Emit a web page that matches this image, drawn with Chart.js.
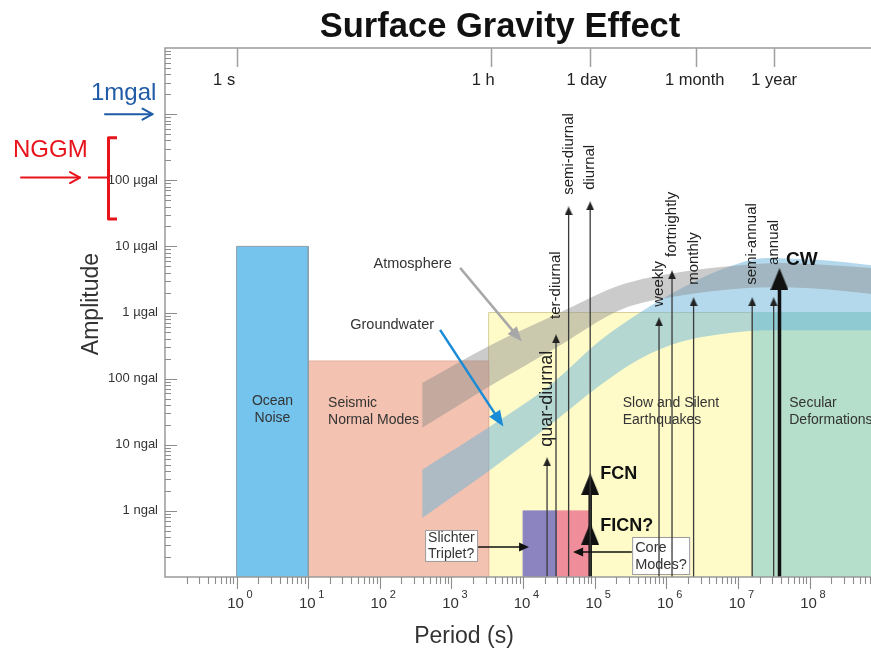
<!DOCTYPE html>
<html>
<head>
<meta charset="utf-8">
<title>Surface Gravity Effect</title>
<script src="https://cdn.jsdelivr.net/npm/chart.js@4.4.1/dist/chart.umd.min.js"></script>
<style>
html,body{margin:0;padding:0;background:#ffffff;}
#wrap{width:871px;height:650px;position:relative;}
canvas{display:block;}
</style>
</head>
<body>
<div id="wrap"><canvas id="chart" width="871" height="650"></canvas></div>
<script>
// ===== DATA (period in seconds, amplitude in ngal) =====
const periodRange = [0.1, 7.2e8];
const amplitudeRange = [0.1, 1e7];

// Source regions (rectangles)
const regionNames = ['Ocean Noise', 'Seismic Normal Modes', 'Slow and Silent Earthquakes', 'Secular Deformations', 'Slichter Triplet', 'Core Modes'];
const regionStart = [1, 10, 3300, 1.58e7, 1e4, 28800];
const regionEnd   = [10, 3300, 1.58e7, 1e9, 28800, 86400];
const regionTop   = [1e4, 185, 1000, 1000, 1, 1];

// Atmosphere band
const atmPeriods = [390, 3500, 3.3e4, 2.3e5, 1.6e6, 1.1e7, 3.9e7, 2e8, 7.2e8];
const atmUpper   = [86, 320, 1000, 2600, 4100, 5200, 5600, 5200, 4700];
const atmLower   = [18, 78, 320, 1100, 1800, 2300, 2400, 2200, 1900];

// Groundwater band
const gwPeriods = [390, 3500, 2.4e4, 1.2e5, 4.3e5, 1.6e6, 5.6e6, 2.6e7, 1.4e8, 7.2e8];
const gwUpper   = [4.2, 19, 80, 380, 1000, 2300, 4400, 6700, 6200, 5200];
const gwLower   = [0.78, 4.2, 20, 80, 200, 360, 470, 540, 540, 540];

// Tidal lines
const tideNames   = ['quar-diurnal', 'ter-diurnal', 'semi-diurnal', 'diurnal', 'weekly', 'fortnightly', 'monthly', 'semi-annual', 'annual'];
const tidePeriods = [21600, 28800, 43200, 86400, 7.9e5, 1.2e6, 2.4e6, 1.58e7, 3.15e7];
const tideAmps    = [5.5, 400, 34400, 41000, 720, 3700, 1450, 1450, 1450];

// Earth rotation modes (thick arrows)
const fcnPeriod = 86400;
const fcnAmps   = [0.45, 2.55];   // FICN?, FCN
const cwPeriod  = 3.8e7;
const cwAmp     = 3200;

// Axis ticks
const ampTicks       = [1, 10, 100, 1e3, 1e4, 1e5];
const ampTickLabels  = ['1 ngal', '10 ngal', '100 ngal', '1 \u00b5gal', '10 \u00b5gal', '100 \u00b5gal'];
const periodTicks    = [1, 10, 100, 1e3, 1e4, 1e5, 1e6, 1e7, 1e8];
const periodTickExp  = ['0', '1', '2', '3', '4', '5', '6', '7', '8'];
const timeMarks      = [1, 3600, 86400, 2.61e6, 3.15e7];
const timeMarkLabels = ['1 s', '1 h', '1 day', '1 month', '1 year'];

// Texts
const regionLabelLines = [['Ocean', 'Noise'], ['Seismic', 'Normal Modes'], ['Slow and Silent', 'Earthquakes'], ['Secular', 'Deformations']];
const calloutText = [['Slichter', 'Triplet?'], ['Core', 'Modes?']];

// ===== LAYOUT (annotation anchors in data units, styles) =====
const layout = {
  regionLabelPos: [[3.17, 34], [18.9, 31.8], [2.46e5, 32], [5.2e7, 32]],
  regionLabelAlign: ['center', 'left', 'left', 'left'],
  tideLabelBase: [9.3, 800, 60100, 71600, 1220, 6930, 2620, 2620, 5250],
  tideLabelSize: [18, 15, 15, 15, 15, 15, 15, 15, 15],
  fcnLabelPos: [[1.19e5, 3.6], [1.19e5, 0.59]],
  cwLabelPos: [4.7e7, 6250],
  calloutPeriod: [[428, 2350], [3.33e5, 2.15e6]],
  calloutAmp: [[0.169, 0.514], [0.107, 0.403]],
  calloutArrowFrom: [[2350, 0.284], [3.3e5, 0.239]],
  calloutArrowTo: [[12100, 0.284], [49900, 0.239]],
  atmLabel: [1007, 5320], atmArrow: [[1320, 4730], [9600, 363]],
  gwLabel: [571, 647], gwArrow: [[693, 546], [5300, 18.8]],
  mgalLevel: 1e6, nggmLevel: 1.1e5, nggmSpan: [2.6e4, 4.4e5],
  topLabelShift: [-12.5, -8, -3.5, -1.5, 0.5]
};

const regionFill = ['#74C4EE', '#F3C2B0', '#FEFBC9', '#B5DFCA', '#8B84C0', '#EF8E9A'];
const regionEdge = ['#8b9fad', '#e6b3a1', '#d8cf9c', '#B5DFCA', '#8B84C0', '#EF8E9A'];
const FONT = '"Liberation Sans", Arial, Helvetica, sans-serif';

function headCanvas(w, h, color) {
  const c = document.createElement('canvas');
  c.width = w; c.height = h;
  const g = c.getContext('2d');
  g.fillStyle = color;
  g.beginPath(); g.moveTo(w / 2, 0); g.lineTo(w, h); g.lineTo(0, h); g.closePath(); g.fill();
  return c;
}
const thinHead = headCanvas(8, 9, '#222');
const thickHead = headCanvas(18, 22, '#111');

// ===== DATASETS =====
const datasets = [];
regionNames.forEach((name, i) => {
  datasets.push({
    label: name,
    data: [
      {x: regionStart[i], y: amplitudeRange[0]},
      {x: regionStart[i], y: regionTop[i]},
      {x: regionEnd[i], y: regionTop[i]},
      {x: regionEnd[i], y: amplitudeRange[0]}
    ],
    backgroundColor: regionFill[i],
    borderColor: regionEdge[i],
    borderWidth: 1,
    fill: 'start',
    pointRadius: 0,
    tension: 0,
    order: (i === 2 || i === 3) ? 21 : 20
  });
});
function band(label, periods, upper, lower, color, order) {
  datasets.push({
    label: label + ' upper',
    data: periods.map((p, i) => ({x: p, y: upper[i]})),
    fill: '+1', backgroundColor: color, borderColor: 'rgba(0,0,0,0)', borderWidth: 0,
    pointRadius: 0, tension: 0.4, cubicInterpolationMode: 'monotone', order: order
  });
  datasets.push({
    label: label + ' lower',
    data: periods.map((p, i) => ({x: p, y: lower[i]})),
    fill: false, backgroundColor: color, borderColor: 'rgba(0,0,0,0)', borderWidth: 0,
    pointRadius: 0, tension: 0.4, cubicInterpolationMode: 'monotone', order: order
  });
}
band('Groundwater', gwPeriods, gwUpper, gwLower, 'rgba(105,180,218,0.5)', 6);
band('Atmosphere', atmPeriods, atmUpper, atmLower, 'rgba(140,140,140,0.45)', 5);

tideNames.forEach((name, i) => {
  datasets.push({
    label: name,
    data: [{x: tidePeriods[i], y: amplitudeRange[0]}, {x: tidePeriods[i], y: tideAmps[i]}],
    borderColor: '#3a3a3a', borderWidth: 1.3, fill: false,
    pointStyle: thinHead, pointRadius: [0, 4.5], tension: 0, order: 1
  });
});
datasets.push({
  label: 'FCN',
  data: [{x: fcnPeriod, y: amplitudeRange[0]}, {x: fcnPeriod, y: fcnAmps[0]}, {x: fcnPeriod, y: fcnAmps[1]}],
  borderColor: '#111', borderWidth: 3.5, fill: false,
  pointStyle: thickHead, pointRadius: [0, 11, 11], tension: 0, order: 1
});
datasets.push({
  label: 'CW',
  data: [{x: cwPeriod, y: amplitudeRange[0]}, {x: cwPeriod, y: cwAmp}],
  borderColor: '#111', borderWidth: 3.5, fill: false,
  pointStyle: thickHead, pointRadius: [0, 11], tension: 0, order: 1
});

// ===== DRAW HELPERS =====
function txt(ctx, s, x, y, size, o) {
  o = o || {};
  ctx.save();
  ctx.font = (o.bold ? 'bold ' : '') + size + 'px ' + FONT;
  ctx.fillStyle = o.color || '#333';
  ctx.textAlign = o.align || 'left';
  ctx.textBaseline = o.baseline || 'middle';
  if (o.rotate) { ctx.translate(x, y); ctx.rotate(o.rotate); ctx.fillText(s, 0, 0); }
  else ctx.fillText(s, x, y);
  ctx.restore();
}
function solidArrow(ctx, x1, y1, x2, y2, lw, color, len, wid) {
  const a = Math.atan2(y2 - y1, x2 - x1);
  ctx.save();
  ctx.strokeStyle = color; ctx.fillStyle = color; ctx.lineWidth = lw;
  ctx.beginPath(); ctx.moveTo(x1, y1); ctx.lineTo(x2 - Math.cos(a) * len * 0.8, y2 - Math.sin(a) * len * 0.8); ctx.stroke();
  ctx.translate(x2, y2); ctx.rotate(a);
  ctx.beginPath(); ctx.moveTo(0, 0); ctx.lineTo(-len, wid / 2); ctx.lineTo(-len, -wid / 2); ctx.closePath(); ctx.fill();
  ctx.restore();
}
function openArrow(ctx, x1, x2, y, lw, color) {
  ctx.save();
  ctx.strokeStyle = color; ctx.lineWidth = lw; ctx.lineCap = 'round'; ctx.lineJoin = 'round';
  ctx.beginPath(); ctx.moveTo(x1, y); ctx.lineTo(x2, y); ctx.stroke();
  ctx.beginPath(); ctx.moveTo(x2 - 10, y - 5.5); ctx.lineTo(x2, y); ctx.lineTo(x2 - 10, y + 5.5); ctx.stroke();
  ctx.restore();
}

let overlayDone = false;
const overlayPlugin = {
  id: 'overlays',
  beforeDatasetsDraw() { overlayDone = false; },
  beforeDatasetDraw(chart, args) {
    if (overlayDone || args.meta.order !== 1) return;
    overlayDone = true;
    const ctx = chart.ctx, X = v => chart.scales.x.getPixelForValue(v), Y = v => chart.scales.y.getPixelForValue(v);
    // region labels
    regionLabelLines.forEach((lines, i) => {
      const x = X(layout.regionLabelPos[i][0]), yc = Y(layout.regionLabelPos[i][1]);
      lines.forEach((s, j) => txt(ctx, s, x, yc + (j - (lines.length - 1) / 2) * 17, 14, {align: layout.regionLabelAlign[i], color: '#333'}));
    });
    // callout boxes
    calloutText.forEach((lines, i) => {
      const x1 = X(layout.calloutPeriod[i][0]), x2 = X(layout.calloutPeriod[i][1]);
      const y1 = Y(layout.calloutAmp[i][1]), y2 = Y(layout.calloutAmp[i][0]);
      ctx.save();
      ctx.fillStyle = '#ffffff'; ctx.strokeStyle = '#9a9a9a'; ctx.lineWidth = 1;
      ctx.fillRect(x1, y1, x2 - x1, y2 - y1); ctx.strokeRect(x1 + 0.5, y1 + 0.5, x2 - x1 - 1, y2 - y1 - 1);
      ctx.restore();
      const yc = (y1 + y2) / 2, gap = i === 0 ? 16 : 17;
      lines.forEach((s, j) => txt(ctx, s, x1 + 3, yc + (j - 0.5) * gap, i === 0 ? 14 : 14.5, {color: '#333'}));
    });
  },
  afterDatasetsDraw(chart) {
    const ctx = chart.ctx, X = v => chart.scales.x.getPixelForValue(v), Y = v => chart.scales.y.getPixelForValue(v);
    const a = chart.chartArea;
    // callout arrows
    layout.calloutArrowFrom.forEach((f, i) => {
      const t = layout.calloutArrowTo[i];
      solidArrow(ctx, X(f[0]), Y(f[1]), X(t[0]), Y(t[1]), 1.6, '#111', 10, 9);
    });
    // tidal labels
    tideNames.forEach((s, i) => {
      txt(ctx, s, X(tidePeriods[i]), Y(layout.tideLabelBase[i]), layout.tideLabelSize[i], {rotate: -Math.PI / 2, color: '#222'});
    });
    txt(ctx, 'FCN', X(layout.fcnLabelPos[0][0]), Y(layout.fcnLabelPos[0][1]), 18, {bold: true, color: '#111'});
    txt(ctx, 'FICN?', X(layout.fcnLabelPos[1][0]), Y(layout.fcnLabelPos[1][1]), 18, {bold: true, color: '#111'});
    txt(ctx, 'CW', X(layout.cwLabelPos[0]), Y(layout.cwLabelPos[1]), 19, {bold: true, color: '#111'});
    // atmosphere / groundwater annotations
    txt(ctx, 'Atmosphere', X(layout.atmLabel[0]), Y(layout.atmLabel[1]), 14.5, {align: 'right', color: '#333'});
    txt(ctx, 'Groundwater', X(layout.gwLabel[0]), Y(layout.gwLabel[1]), 14.5, {align: 'right', color: '#333'});
    solidArrow(ctx, X(layout.atmArrow[0][0]), Y(layout.atmArrow[0][1]), X(layout.atmArrow[1][0]), Y(layout.atmArrow[1][1]), 2.5, '#a8a8a8', 15, 12);
    solidArrow(ctx, X(layout.gwArrow[0][0]), Y(layout.gwArrow[0][1]), X(layout.gwArrow[1][0]), Y(layout.gwArrow[1][1]), 2.5, '#1a8bd6', 16, 13);

    // ----- axes -----
    ctx.save();
    ctx.strokeStyle = '#9a9a9a'; ctx.lineWidth = 1.5;
    ctx.beginPath();
    ctx.moveTo(a.right, a.top); ctx.lineTo(a.left, a.top); ctx.lineTo(a.left, a.bottom); ctx.lineTo(a.right, a.bottom);
    ctx.stroke();
    ctx.lineWidth = 1.1; ctx.strokeStyle = '#8c8c8c';
    ctx.beginPath();
    for (let d = -1; d <= 6; d++) {
      for (let k = 1; k <= 9; k++) {
        const v = k * Math.pow(10, d);
        if (v <= amplitudeRange[0] || v >= amplitudeRange[1]) continue;
        const y = Math.round(Y(v)) + 0.5;
        const len = k === 1 ? 12 : 6;
        ctx.moveTo(a.left, y); ctx.lineTo(a.left + len, y);
      }
    }
    for (let d = -1; d <= 8; d++) {
      for (let k = 1; k <= 9; k++) {
        const v = k * Math.pow(10, d);
        if (v <= periodRange[0] || v >= periodRange[1]) continue;
        const x = Math.round(X(v)) + 0.5;
        const len = k === 1 ? 12 : 7;
        ctx.moveTo(x, a.bottom); ctx.lineTo(x, a.bottom + len);
      }
    }
    ctx.stroke();
    ctx.lineWidth = 1.5; ctx.strokeStyle = '#a0a0a0';
    ctx.beginPath();
    timeMarks.forEach(v => { const x = Math.round(X(v)) + 0.5; ctx.moveTo(x, a.top); ctx.lineTo(x, a.top + 19); });
    ctx.stroke();
    ctx.restore();
    timeMarks.forEach((v, i) => txt(ctx, timeMarkLabels[i], X(v) + layout.topLabelShift[i], a.top + 37, 16.5, {align: 'center', baseline: 'alphabetic', color: '#222'}));
    ampTicks.forEach((v, i) => txt(ctx, ampTickLabels[i], 158, Y(v), 13, {align: 'right', color: '#333'}));
    periodTicks.forEach((v, i) => {
      const x = X(v) - 1;
      txt(ctx, '10', x, a.bottom + 27, 15, {align: 'center', color: '#333'});
      txt(ctx, periodTickExp[i], x + 11, a.bottom + 18, 11, {align: 'left', color: '#333'});
    });
  },
  afterDraw(chart) {
    const ctx = chart.ctx, Y = v => chart.scales.y.getPixelForValue(v);
    txt(ctx, 'Surface Gravity Effect', 500, 37, 34.5, {bold: true, align: 'center', baseline: 'alphabetic', color: '#111'});
    txt(ctx, 'Amplitude', 92, 304, 23, {align: 'center', rotate: -Math.PI / 2, color: '#333'});
    txt(ctx, 'Period (s)', 464, 637, 23, {align: 'center', color: '#333'});
    const yM = Y(layout.mgalLevel);
    txt(ctx, '1mgal', 91, 100, 24, {baseline: 'alphabetic', color: '#1f5ba6'});
    openArrow(ctx, 105, 152.5, yM, 2, '#1f5ba6');
    const red = '#e8141c';
    txt(ctx, 'NGGM', 13, 157, 24, {baseline: 'alphabetic', color: red});
    const yN = Y(layout.nggmLevel);
    openArrow(ctx, 21, 80, yN, 2, red);
    const yTop = Y(layout.nggmSpan[1]), yBot = Y(layout.nggmSpan[0]);
    ctx.save();
    ctx.strokeStyle = red; ctx.lineWidth = 2;
    ctx.beginPath(); ctx.moveTo(88, yN); ctx.lineTo(108, yN); ctx.stroke();
    ctx.lineWidth = 3; ctx.lineJoin = 'round';
    ctx.beginPath(); ctx.moveTo(117, yTop); ctx.lineTo(108.5, yTop); ctx.lineTo(108.5, yBot); ctx.lineTo(117, yBot); ctx.stroke();
    ctx.restore();
  }
};

const chart = new Chart(document.getElementById('chart'), {
  type: 'line',
  data: {datasets: datasets},
  options: {
    responsive: false,
    animation: false,
    events: [],
    layout: {autoPadding: false, padding: {left: 165, top: 48, right: 0, bottom: 73}},
    scales: {
      x: {type: 'logarithmic', min: periodRange[0], max: periodRange[1], display: false},
      y: {type: 'logarithmic', min: amplitudeRange[0], max: amplitudeRange[1], display: false}
    },
    plugins: {legend: {display: false}, tooltip: {enabled: false}, title: {display: false}}
  },
  plugins: [overlayPlugin]
});
</script>
</body>
</html>
